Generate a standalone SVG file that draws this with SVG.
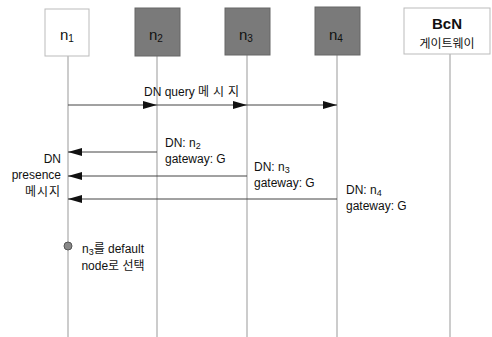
<svg xmlns="http://www.w3.org/2000/svg" width="492" height="337" viewBox="0 0 492 337">
<defs>
<style>
.t{font-family:"Liberation Sans","Noto Sans CJK KR",sans-serif;font-size:12px;fill:#111}
.h{font-family:"Liberation Sans","Noto Sans CJK KR",sans-serif;font-size:15px;fill:#111}
.life{stroke:#999;stroke-width:1}
.msg{stroke:#444;stroke-width:1;fill:none}
.wbox{fill:#fff;stroke:#bbb;stroke-width:1}
.dbox{fill:#7a7a7a;stroke:#666;stroke-width:1}
</style>
<marker id="ah" viewBox="0 0 14 8" refX="14" refY="4" markerWidth="14" markerHeight="8" markerUnits="userSpaceOnUse" orient="auto">
<path d="M0,0 L14,4 L0,8 z" fill="#111"/>
</marker>
</defs>
<rect width="492" height="337" fill="#fff"/>
<g id="lifelines">
<line class="life" x1="68" y1="56" x2="68" y2="337"/>
<line class="life" x1="157" y1="56" x2="157" y2="337"/>
<line class="life" x1="247" y1="55" x2="247" y2="337"/>
<line class="life" x1="337" y1="55" x2="337" y2="337"/>
<line class="life" x1="450" y1="54" x2="450" y2="337"/>
</g>
<g id="n1">
<rect class="wbox" x="45" y="9" width="44" height="47"/>
<text class="h" x="60" y="40">n<tspan font-size="10" dy="2">1</tspan></text>
</g>
<g id="n2">
<rect class="dbox" x="135" y="8" width="45" height="48"/>
<text class="h" x="149" y="40">n<tspan font-size="10" dy="2">2</tspan></text>
</g>
<g id="n3">
<rect class="dbox" x="225" y="8" width="45" height="47"/>
<text class="h" x="239" y="40">n<tspan font-size="10" dy="2">3</tspan></text>
</g>
<g id="n4">
<rect class="dbox" x="315" y="7" width="45" height="48"/>
<text class="h" x="329" y="40">n<tspan font-size="10" dy="2">4</tspan></text>
</g>
<g id="bcn">
<rect class="wbox" x="404" y="8" width="86" height="46"/>
<text class="h" x="447" y="29" text-anchor="middle" font-weight="bold" font-size="16">BcN</text>
<text class="t" x="447" y="48" text-anchor="middle" font-size="14">게이트웨이</text>
</g>
<g id="connectors">
<line class="msg" x1="68" y1="105" x2="157" y2="105" marker-end="url(#ah)"/>
<line class="msg" x1="157" y1="105" x2="247" y2="105" marker-end="url(#ah)"/>
<line class="msg" x1="247" y1="105" x2="337" y2="105" marker-end="url(#ah)"/>
<line class="msg" x1="157" y1="152" x2="68" y2="152" marker-end="url(#ah)"/>
<line class="msg" x1="247" y1="176" x2="68" y2="176" marker-end="url(#ah)"/>
<line class="msg" x1="337" y1="199" x2="68" y2="199" marker-end="url(#ah)"/>
</g>
<g id="labels">
<text class="t" x="144" y="96">DN query <tspan letter-spacing="4">메시지</tspan></text>
<text class="t" x="165" y="147">DN: n<tspan font-size="9" dy="2">2</tspan></text>
<text class="t" x="165" y="163">gateway: G</text>
<text class="t" x="254" y="171">DN: n<tspan font-size="9" dy="2">3</tspan></text>
<text class="t" x="254" y="187">gateway: G</text>
<text class="t" x="346" y="194">DN: n<tspan font-size="9" dy="2">4</tspan></text>
<text class="t" x="346" y="210">gateway: G</text>
<text class="t" x="61" y="163" text-anchor="end">DN</text>
<text class="t" x="61" y="179" text-anchor="end">presence</text>
<text class="t" x="61" y="196" text-anchor="end" font-size="11" letter-spacing="1">메시지</text>
</g>
<g id="decision">
<circle cx="68" cy="246" r="4" fill="#888" stroke="#555" stroke-width="1"/>
<text class="t" x="113" y="253" text-anchor="middle">n<tspan font-size="9" dy="2">3</tspan><tspan dy="-2">를 default</tspan></text>
<text class="t" x="113" y="270" text-anchor="middle">node로 선택</text>
</g>
</svg>
